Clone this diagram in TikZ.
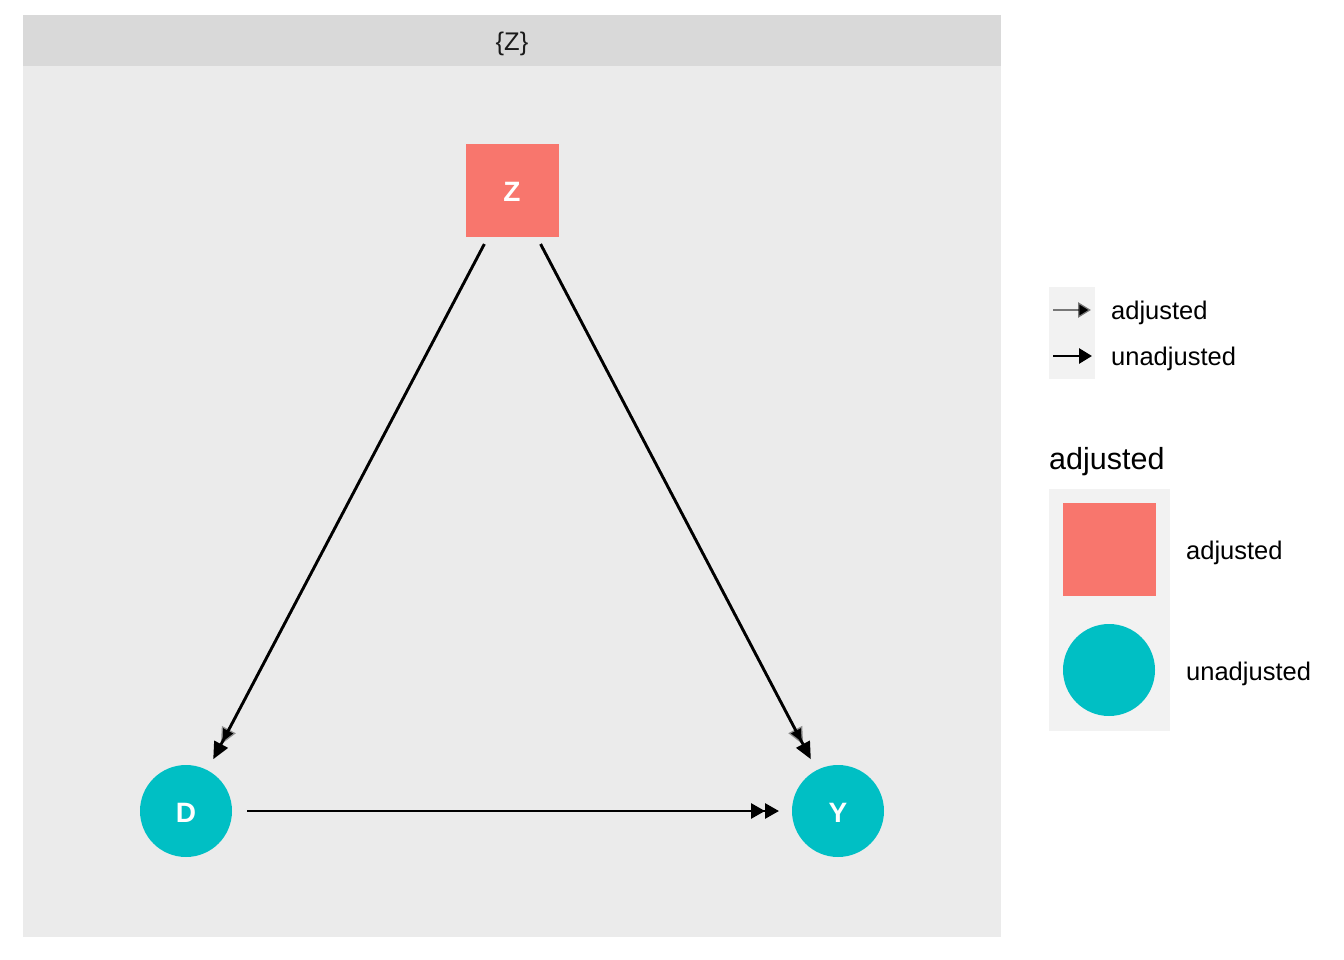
\documentclass[tikz,border=0pt]{standalone}
\usepackage{fontspec}
\setmainfont{Liberation Sans}
\usetikzlibrary{arrows.meta}
\definecolor{panelbg}{HTML}{EBEBEB}
\definecolor{stripbg}{HTML}{D9D9D9}
\definecolor{keybg}{HTML}{F2F2F2}
\definecolor{adjred}{HTML}{F8766D}
\definecolor{unadjteal}{HTML}{00BFC4}
\definecolor{striptext}{HTML}{1A1A1A}
\begin{document}
\begin{tikzpicture}[x=1pt,y=-1pt,
  txt/.style={font=\fontsize{25.5}{30}\selectfont, text=black, inner sep=0pt},
  title/.style={font=\fontsize{30.5}{36}\selectfont, text=black, inner sep=0pt},
  sqnode/.style={rectangle, fill=adjred, minimum size=93pt, inner sep=0pt, outer sep=0pt},
  circnode/.style={circle, fill=unadjteal, minimum size=92pt, inner sep=0pt, outer sep=0pt},
  lbl/.style={text=white, inner sep=0pt, font=\fontsize{28}{32}\selectfont\bfseries},
  head/.style={-{Triangle[length=17pt,width=15pt]}},
  edge/.style={line width=2.8pt, draw=black, head},
  ghost/.style={line width=2.8pt, draw=black, draw opacity=0.4, head}
]
\useasboundingbox (0,0) rectangle (1344,960);
\fill[white] (0,0) rectangle (1344,960);

% panel and facet strip
\fill[panelbg] (23,66) rectangle (1001,937);
\fill[stripbg] (23,15) rectangle (1001,66);
\node[txt, text=striptext] (strip) at (512,44) {\{Z\}};

% DAG nodes
\node[sqnode] (Z) at (512.5,190.5) {};
\node[circnode] (D) at (186,811) {};
\node[circnode] (Y) at (838,811) {};
\node[lbl] (zl) at (512,192) {Z};
\node[lbl] (dl) at (186,813) {D};
\node[lbl] (yl) at (838,813) {Y};

% faint heads of the adjusted layer, underneath
\draw[ghost, shorten <=8pt, shorten >=29pt] (Z) -- (D);
\draw[ghost, shorten <=8pt, shorten >=29pt] (Z) -- (Y);

% edges
\draw[edge, shorten <=8pt, shorten >=12.5pt] (Z) -- (D);
\draw[edge, shorten <=8pt, shorten >=12.5pt] (Z) -- (Y);
\draw[line width=2.8pt, -{Triangle[length=14pt,width=15pt] Triangle[length=14pt,width=15pt]},
  shorten <=15pt, shorten >=13pt] (D) -- (Y);

% legend: edge key
\fill[keybg] (1049,287) rectangle (1095,379);
\coordinate (ka0) at (1053,310);
\coordinate (ka1) at (1091,310);
\coordinate (kb0) at (1053,356);
\coordinate (kb1) at (1092,356);
\draw[line width=2.8pt, draw=black, draw opacity=0.5, -{Triangle[length=13pt,width=15pt]}] (ka0) -- (ka1);
\draw[line width=2.8pt, draw=black, -{Triangle[length=13pt,width=15pt]}] (kb0) -- (kb1);
\node[txt, anchor=west] (la) at (1111,313) {adjusted};
\node[txt, anchor=west] (lb) at (1111,359) {unadjusted};

% legend: node key
\node[title, anchor=west] (lt) at (1049,462) {adjusted};
\fill[keybg] (1049,489) rectangle (1170,731);
\node[sqnode] (ks) at (1109.5,549.5) {};
\node[circnode] (kc) at (1109,670) {};
\node[txt, anchor=west] (lc) at (1186,553) {adjusted};
\node[txt, anchor=west] (ld) at (1186,674) {unadjusted};
\end{tikzpicture}
\end{document}
